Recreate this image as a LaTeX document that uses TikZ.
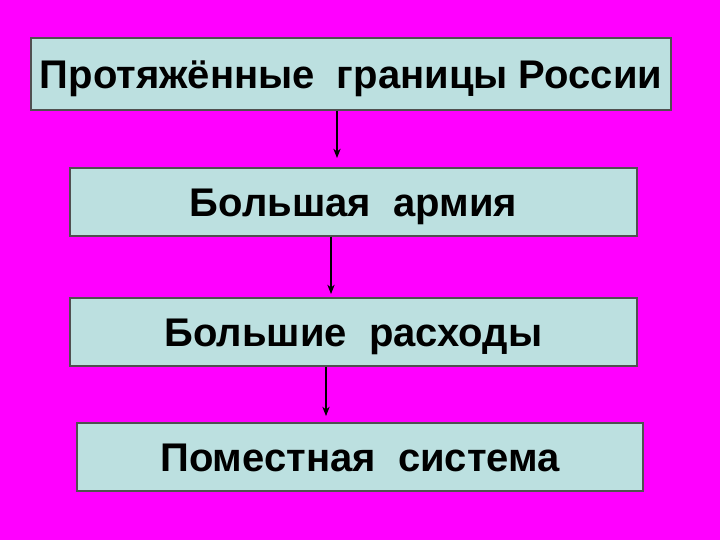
\documentclass[tikz,border=0pt]{standalone}
\usepackage{fontspec}
\setmainfont{Liberation Sans}
\usetikzlibrary{arrows.meta}
\definecolor{bg}{HTML}{FF00FF}
\definecolor{boxfill}{HTML}{BCE0E0}
\definecolor{boxline}{HTML}{505050}
\tikzset{
  box/.style={draw=boxline, line width=0.9pt, fill=boxfill, inner sep=0pt,
    font=\fontsize{30}{34}\selectfont\bfseries, text height=21.5pt, text depth=0pt},
  link/.style={draw=black, line width=0.8pt, -{Stealth[length=7pt,width=5.5pt]}}
}
\begin{document}
\begin{tikzpicture}[x=0.75pt,y=-0.75pt]
\fill[bg] (0,0) rectangle (720,540);
\useasboundingbox (0,0) rectangle (720,540);
\node[box, minimum width=640*0.75pt, minimum height=72*0.75pt] (b1) at (351,74) {Протяжённые\ \ границы России};
\node[box, minimum width=567*0.75pt, minimum height=68*0.75pt] (b2) at (353.5,202) {Большая\ \ армия};
\node[box, minimum width=567*0.75pt, minimum height=68*0.75pt] (b3) at (353.5,332) {Большие\ \ расходы};
\node[box, minimum width=566*0.75pt, minimum height=68*0.75pt] (b4) at (360,457) {Поместная\ \ система};
\coordinate (t1) at (337,158);
\coordinate (t2) at (331,294);
\coordinate (t3) at (326,416);
\draw[link] (b1.south -| t1) -- (t1);
\draw[link] (b2.south -| t2) -- (t2);
\draw[link] (b3.south -| t3) -- (t3);
\end{tikzpicture}
\end{document}
